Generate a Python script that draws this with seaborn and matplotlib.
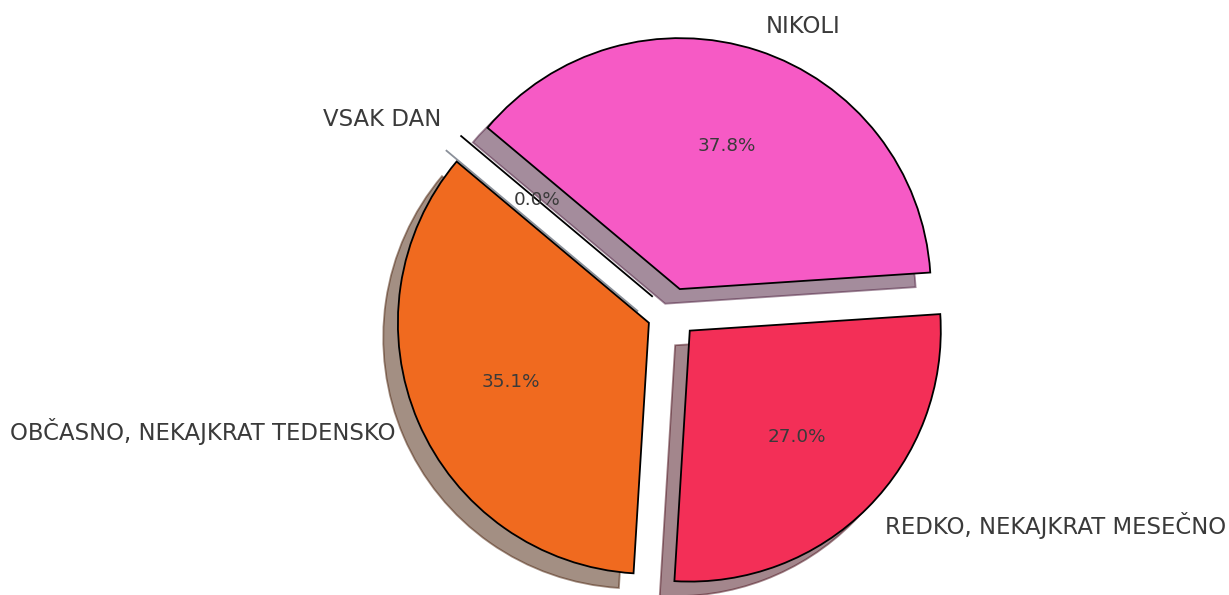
import matplotlib
matplotlib.use("Agg")
import matplotlib.pyplot as plt
import seaborn as sns

labels = ["VSAK DAN", "NIKOLI", "REDKO, NEKAJKRAT MESEČNO", "OBČASNO, NEKAJKRAT TEDENSKO"]
counts = [0, 14, 10, 13]
colors = ["#4C72B0", "#F65AC5", "#F32F57", "#F06A1F"]
explode = [0.1, 0.1, 0.1, 0.1]

sns.set_theme(style="white")
plt.rcParams['font.family'] = ['DejaVu Sans']

fig = plt.figure(figsize=(12.29, 5.95), dpi=100)
ax = fig.add_axes([0, 0, 1, 1])
wedges, texts, autotexts = ax.pie(
    counts,
    labels=labels,
    colors=colors,
    explode=explode,
    startangle=140,
    counterclock=False,
    autopct="%1.1f%%",
    shadow={'ox': -0.042, 'oy': -0.042},
    wedgeprops={'edgecolor': 'black', 'linewidth': 1.3},
    textprops={'color': '#3a3a3a'},
)
for t in texts:
    t.set_fontsize(16.4)
for t in autotexts:
    t.set_fontsize(13.2)
ax.set_aspect('auto')
ax.set_xlim(-2.677, 2.219)
ax.set_ylim(-1.124, 1.247)
ax.axis('off')
fig.savefig("out.png", dpi=100)
